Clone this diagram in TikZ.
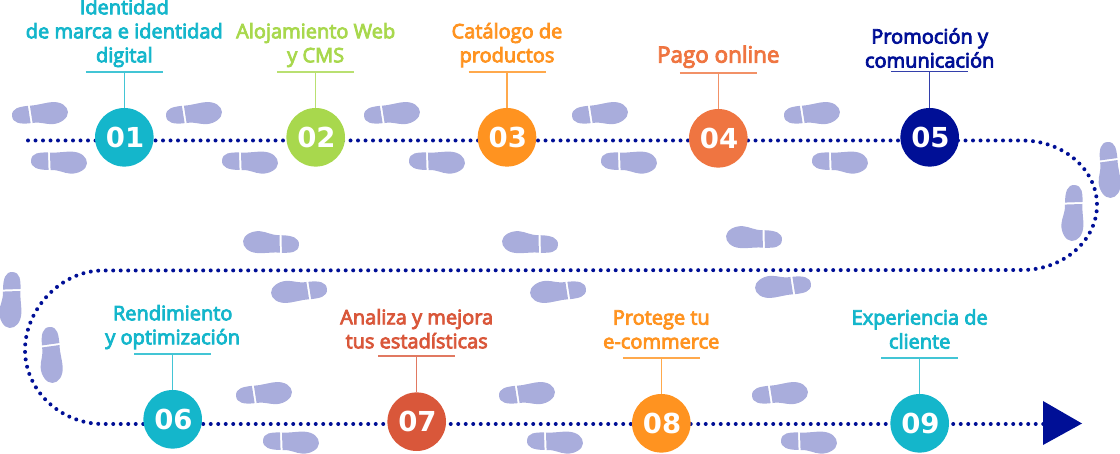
\documentclass[tikz,border=0pt]{standalone}
\usepackage{fontspec}
\setmainfont{Open Sans}
\newfontfamily\labelfont{Open Sans}[FakeBold=4]
\newfontfamily\numfont{DejaVu Sans}
\definecolor{tealc}{HTML}{14B6CB}
\definecolor{greenc}{HTML}{A8D84D}
\definecolor{orangec}{HTML}{FF9320}
\definecolor{coralc}{HTML}{EF7541}
\definecolor{navyc}{HTML}{000F96}
\definecolor{redc}{HTML}{D9573A}
\definecolor{shoec}{HTML}{A9ADDC}
\tikzset{
	stepnum/.style={circle,fill=#1,minimum size=58.6pt,inner sep=0pt,text=white,font=\numfont\fontsize{27.5}{27.5}\selectfont\bfseries},
	steplabel/.style={anchor=south,align=center,inner sep=0pt,text=#1,font=\labelfont\fontsize{20}{24}\selectfont,execute at end node={\strut}},
	trail/.style={navyc,line width=4pt,line cap=round,dash pattern=on 0pt off 7.5pt},
	shoe/.pic={
		\fill[shoec] (-11.5,-9) .. controls (-20,-8.5) and (-28,-8) .. (-28,0) .. controls (-28,7) and (-21,9) .. (-10,8.5) -- cycle;
		\fill[shoec] (-9.5,-9) .. controls (0,-9) and (5,-11) .. (13,-11) .. controls (22,-11) and (28,-6) .. (28,0) .. controls (28,6) and (20,11) .. (12,11) .. controls (5,11) and (0,7.5) .. (-8,8.5) -- cycle;
	}
}
\begin{document}
\begin{tikzpicture}[x=1pt,y=-1pt]
	\useasboundingbox (0,0) rectangle (1120,454);
	% footprints
	\foreach \x/\y/\a in {40/114/4,59/162/-3,194/114/4,250/162/-3,392/114/4,437/162/-3,600/114/4,629/162/-3,812/114/4,840/162/-3,
		271/243/176,299/291/184,530/243/176,558/291/184,754/238/176,783/286/184,264/394/4,291/442/-3,527/394/4,555/442/-3,780/394/4,809/442/-3,
		1109/170/-87,1073/213/-93,11/300/-93,51/355/-87}
		\pic[rotate=\a] at (\x,\y) {shoe};
	% trail
	\coordinate (trailstart) at (28,140.5);
	\coordinate (turnA) at (1022,140.5);
	\coordinate (turnB) at (1097,205);
	\coordinate (turnC) at (1022,270);
	\coordinate (turnD) at (103,270.5);
	\coordinate (turnE) at (25,350);
	\coordinate (turnF) at (103,424);
	\coordinate (trailend) at (1045,424);
	\draw[trail] (trailstart) -- (turnA) .. controls (1064,140.5) and (1097,170) .. (turnB) .. controls (1097,240) and (1064,270) .. (turnC) -- (turnD) .. controls (60,270.5) and (25,310) .. (turnE) .. controls (25,390) and (60,424) .. (turnF) -- (trailend);
	\fill[navyc] (1043,401) -- (1082,423.5) -- (1043,445) -- cycle;
	% steps
	\foreach \n/\x/\y/\ry/\by/\c/\t in {
		01/124.3/137.3/72/62.5/tealc/{Identidad\\de marca e identidad\\digital},
		02/315.7/137.3/72/62.5/greenc/{Alojamiento Web\\y CMS},
		03/507/137.3/72/62.5/orangec/{Catálogo de\\productos},
		04/718.3/138.3/73/62.8/coralc/{\fontsize{22.4}{24}\selectfont Pago online},
		05/929.7/137.3/71.7/67.8/navyc/{Promoción y\\comunicación},
		06/172.7/419.3/354/344.5/tealc/{Rendimiento\\y optimización},
		07/416.7/421.7/356/348.5/redc/{Analiza y mejora\\tus estadísticas},
		08/661.3/423.3/358/348.8/orangec/{Protege tu\\e-commerce},
		09/919.7/423.3/358/348.8/tealc/{Experiencia de\\cliente}}
	{
		\node[stepnum=\c] (num\n) at (\x,\y) {\hspace{1.5pt}\n};
		\coordinate (rule\n) at (\x,\ry);
		\draw[\c!80!white,line width=1.4pt] ([xshift=-38.5pt]rule\n) -- ([xshift=38.5pt]rule\n);
		\draw[\c!80!white,line width=1.4pt] (rule\n) -- (num\n);
		\node[steplabel=\c] (label\n) at (\x,\by+7.2) {\t};
	}
\end{tikzpicture}
\end{document}
